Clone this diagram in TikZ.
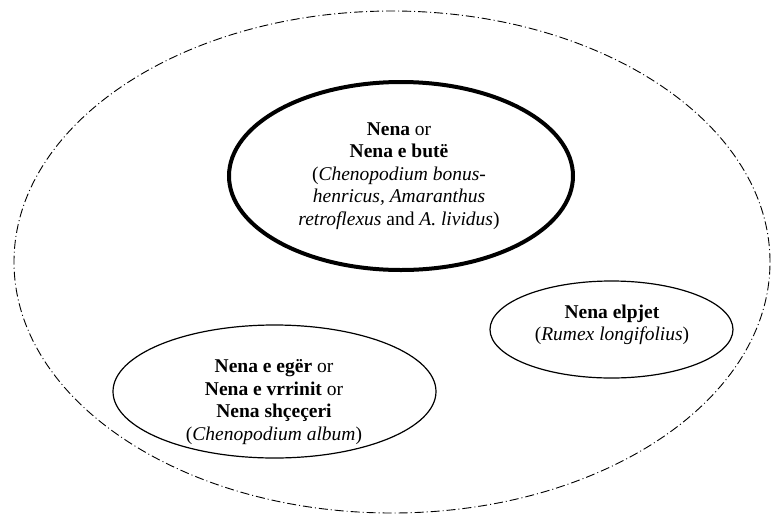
\documentclass[tikz,border=0pt]{standalone}
\usepackage{fontspec}
\setmainfont{Liberation Serif}
\usetikzlibrary{shapes.geometric}
\begin{document}
\begin{tikzpicture}[x=1pt,y=-1pt,
  ell/.style={ellipse, draw, inner sep=0pt, outer sep=0pt},
  outerell/.style={ell, line width=0.9pt, dash pattern=on 9pt off 3pt on 1pt off 3pt},
  thinell/.style={ell, line width=1.2pt},
  thickell/.style={ell, line width=4pt},
  lbl/.style={align=center, inner sep=0pt, font=\fontsize{19.5}{22.5}\selectfont}]
\useasboundingbox (0,0) rectangle (772,515);
\node[outerell, minimum width=756pt, minimum height=502pt] (outer) at (392,262) {};
\node[thickell, minimum width=344pt, minimum height=188pt] (top) at (401,176) {};
\node[thinell, minimum width=243pt, minimum height=97pt] (right) at (611.5,329.5) {};
\node[thinell, minimum width=323pt, minimum height=133pt] (left) at (274.5,391.5) {};
\node[lbl] (toptext) at (399,176) {\textbf{Nena} or\\ \textbf{Nena e butë}\\ (\textit{Chenopodium bonus-}\\ \textit{henricus, Amaranthus}\\ \textit{retroflexus} and \textit{A. lividus})};
\node[lbl] (righttext) at (612,325) {\textbf{Nena elpjet}\\ (\textit{Rumex longifolius})};
\node[lbl] (lefttext) at (274,402) {\textbf{Nena e egër} or\\ \textbf{Nena e vrrinit} or\\ \textbf{Nena shçeçeri}\\ (\textit{Chenopodium album})};
\end{tikzpicture}
\end{document}
